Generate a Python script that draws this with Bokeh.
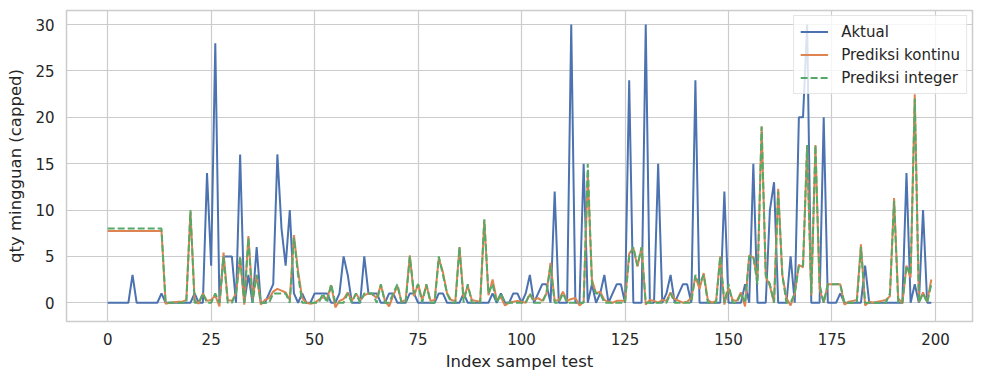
from bokeh.plotting import figure
from bokeh.models import FixedTicker, Range1d, Legend, LegendItem, ColumnDataSource
from bokeh.embed import file_html
from bokeh.resources import INLINE

aktual = [0, 0, 0, 0, 0, 0, 3, 0, 0, 0, 0, 0, 0, 1, 0, 0, 0, 0, 0, 0,
          0, 1, 0, 0, 14, 4, 28, 0, 5, 5, 5, 0, 16, 0, 3, 0, 6, 0, 0, 1,
          2, 16, 8, 4, 10, 1, 0, 1, 0, 0, 1, 1, 1, 1, 0, 0, 1, 5, 3, 0,
          0, 0, 5, 1, 1, 1, 0, 0, 1, 1, 0, 0, 0, 1, 1, 0, 0, 0, 0, 0,
          1, 1, 0, 0, 0, 0, 1, 0, 0, 0, 0, 0, 0, 1, 0, 1, 0, 0, 1, 1,
          0, 1, 3, 0, 1, 2, 2, 0, 12, 0, 0, 0, 30, 0, 0, 15, 0, 2, 0, 1,
          3, 0, 1, 2, 2, 0, 24, 0, 0, 0, 30, 0, 0, 15, 0, 1, 3, 0, 1, 2,
          2, 0, 24, 0, 0, 0, 0, 0, 0, 12, 0, 0, 0, 0, 2, 0, 15, 0, 0, 0,
          10, 13, 0, 0, 0, 5, 0, 20, 20, 30, 0, 0, 0, 20, 0, 0, 0, 1, 0, 0,
          0, 0, 0, 4, 0, 0, 0, 0, 0, 0, 0, 0, 0, 14, 0, 2, 0, 10, 0, 0]

pred_kontinu = [7.75, 7.75, 7.75, 7.75, 7.75, 7.75, 7.75, 7.75, 7.75, 7.75,
                7.75, 7.75, 7.75, 7.75, -0.1, 0.0, 0.05, 0.1, 0.1, 0.3,
                9.8, 0.3, -0.1, 1.0, 0.2, 0.3, 0.8, -0.4, 5.4, 0.3,
                0.2, 1.0, 4.9, -0.2, 7.2, 0.5, 3.0, -0.2, 0.3, 0.5,
                1.2, 1.5, 1.3, 1.1, 0.3, 7.3, 3.4, 0.5, 0.0, -0.1,
                0.0, 0.3, 0.6, 0.4, 1.9, -0.5, 0.2, 0.4, 1.1, 0.2,
                1.0, 0.3, 0.8, 1.0, 0.9, 0.5, 1.9, 0.2, -0.4, 0.8,
                1.8, 0.1, 0.3, 5.1, 0.7, 2.0, 0.3, 1.9, 0.2, 0.3,
                4.8, 3.3, 1.0, 0.3, 0.2, 6.0, 0.5, 1.8, 0.3, 0.2,
                0.1, 8.9, 0.8, 2.5, 0.3, 0.6, -0.3, 0.0, 0.1, 0.2,
                0.1, 0.0, 0.9, 0.3, 0.5, 0.2, 1.0, 4.3, 0.2, 0.3,
                1.2, 0.2, 0.4, 0.5, -0.3, 0.1, 13.8, 2.5, 1.0, 1.2,
                0.3, 0.1, 0.0, 0.2, 0.2, 0.2, 5.3, 5.9, 3.9, 6.0,
                -0.2, 0.3, 0.2, 0.0, 0.3, 0.2, 1.1, 0.4, 0.2, 0.0,
                0.1, 0.5, 2.8, 1.5, 3.2, 0.3, 0.0, 0.2, 5.0, -0.2,
                1.6, 0.3, 0.2, 1.1, -0.4, 5.1, 4.9, 2.5, 19.0, 2.8,
                1.8, 0.0, 12.3, 3.0, 0.5, -0.3, 1.0, 4.1, 3.8, 16.9,
                0.8, 17.0, 1.5, 0.0, 2.0, 2.0, 2.0, 2.0, -0.2, 0.1,
                0.2, 0.3, 6.3, -0.3, 0.1, 0.0, 0.1, 0.2, 0.3, 0.7,
                11.3, 0.5, -0.1, 4.0, 2.7, 22.5, 0.1, 1.1, 0.1, 2.5]

pred_integer = [8, 8, 8, 8, 8, 8, 8, 8, 8, 8,
                8, 8, 8, 8, 0, 0, 0, 0, 0, 0,
                10, 0, 0, 1, 0, 0, 1, 0, 5, 0,
                0, 1, 5, 0, 7, 0, 3, 0, 0, 0,
                1, 1, 1, 1, 0, 7, 3, 0, 0, 0,
                0, 0, 1, 0, 2, 0, 0, 0, 1, 0,
                1, 0, 1, 1, 1, 0, 2, 0, 0, 1,
                2, 0, 0, 5, 1, 2, 0, 2, 0, 0,
                5, 3, 1, 0, 0, 6, 0, 2, 0, 0,
                0, 9, 1, 2, 0, 1, 0, 0, 0, 0,
                0, 0, 1, 0, 0, 0, 1, 4, 0, 0,
                1, 0, 0, 0, 0, 0, 15, 2, 1, 1,
                0, 0, 0, 0, 0, 0, 5, 6, 4, 6,
                0, 0, 0, 0, 0, 0, 1, 0, 0, 0,
                0, 0, 3, 2, 3, 0, 0, 0, 5, 0,
                2, 0, 0, 1, 0, 5, 5, 2, 19, 3,
                2, 0, 12, 3, 0, 0, 1, 4, 4, 17,
                1, 17, 2, 0, 2, 2, 2, 2, 0, 0,
                0, 0, 6, 0, 0, 0, 0, 0, 0, 1,
                11, 0, 0, 4, 3, 22, 0, 1, 0, 2]

x_ticks = [0, 25, 50, 75, 100, 125, 150, 175, 200]
y_ticks = [0, 5, 10, 15, 20, 25, 30]

idx = list(range(len(aktual)))
src = ColumnDataSource(dict(x=idx, a=aktual, k=pred_kontinu, i=pred_integer))

p = figure(width=976, height=376, output_backend="svg", toolbar_location=None,
           x_range=Range1d(-9.95, 208.95), y_range=Range1d(-2.025, 31.525),
           min_border_left=66, min_border_right=4, min_border_top=10, min_border_bottom=55)

p.background_fill_color = "white"
p.border_fill_color = "white"
p.outline_line_color = "#cccccc"
p.outline_line_width = 1.5

for ax in (p.xaxis, p.yaxis):
    ax.axis_line_color = None
    ax.major_tick_line_color = None
    ax.minor_tick_line_color = None
    ax.major_tick_out = 0
    ax.major_tick_in = 0
    ax.minor_tick_out = 0
    ax.minor_tick_in = 0
    ax.major_label_text_font = "DejaVu Sans"
    ax.major_label_text_font_size = "15px"
    ax.major_label_text_color = "#262626"
    ax.axis_label_text_font = "DejaVu Sans"
    ax.axis_label_text_font_size = "16.5px"
    ax.axis_label_text_font_style = "normal"
    ax.axis_label_text_color = "#262626"

p.xaxis.major_label_standoff = 11
p.yaxis.major_label_standoff = 12
p.xaxis.ticker = FixedTicker(ticks=x_ticks)
p.yaxis.ticker = FixedTicker(ticks=y_ticks)
p.xaxis.axis_label = "Index sampel test"
p.yaxis.axis_label = "qty mingguan (capped)"
p.xaxis.axis_label_standoff = 4
p.yaxis.axis_label_standoff = 7

p.xgrid.ticker = FixedTicker(ticks=x_ticks)
p.ygrid.ticker = FixedTicker(ticks=y_ticks)
for g in (p.xgrid, p.ygrid):
    g.grid_line_color = "#cccccc"
    g.grid_line_width = 1.2

r1 = p.line("x", "a", source=src, line_color="#4C72B0", line_width=2)
r2 = p.line("x", "k", source=src, line_color="#DD8452", line_width=2)
r3 = p.line("x", "i", source=src, line_color="#55A868", line_width=2, line_dash="7 3")

legend = Legend(items=[LegendItem(label="Aktual", renderers=[r1]),
                       LegendItem(label="Prediksi kontinu", renderers=[r2]),
                       LegendItem(label="Prediksi integer", renderers=[r3])],
                location="top_right")
legend.label_text_font = "DejaVu Sans"
legend.label_text_font_size = "15px"
legend.label_text_color = "#262626"
legend.background_fill_color = "white"
legend.background_fill_alpha = 0.8
legend.border_line_color = "#cccccc"
legend.border_line_width = 1
legend.margin = 5
legend.padding = 6
legend.spacing = 4
legend.glyph_width = 28
legend.glyph_height = 19
legend.label_height = 19
legend.label_standoff = 13
p.add_layout(legend)

open("out.html", "w").write(file_html(p, INLINE))
